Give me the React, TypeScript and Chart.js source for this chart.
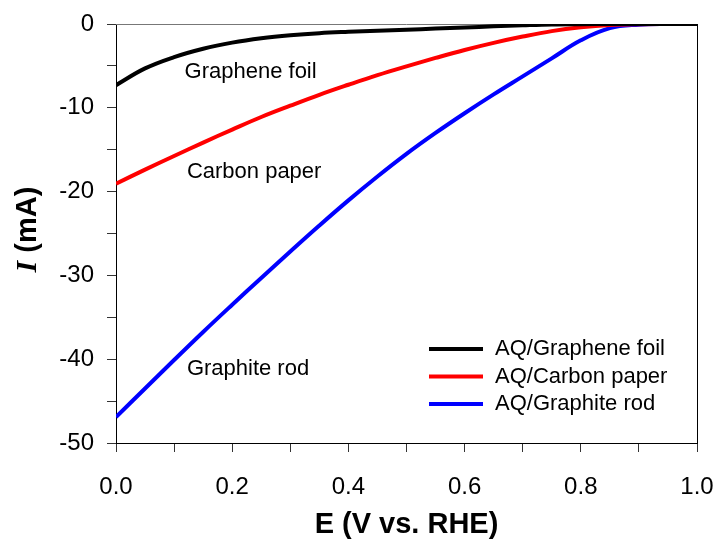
import { useEffect, useRef } from "react";
import { Chart, registerables } from "chart.js";

Chart.register(...registerables);

// ---- data ----
const voltage = [0, 0.05, 0.1, 0.15, 0.2, 0.25, 0.3, 0.35, 0.4, 0.45, 0.5, 0.55, 0.6, 0.65, 0.7, 0.75, 0.8, 0.85, 0.9, 0.95, 1.0];
const grapheneFoil = [-7.3, -5.3, -3.95, -2.95, -2.22, -1.7, -1.34, -1.09, -0.93, -0.8, -0.69, -0.55, -0.42, -0.28, -0.16, -0.06, -0.02, 0, 0, 0, 0];
const carbonPaper = [-19.06, -17.38, -15.75, -14.15, -12.6, -11.1, -9.75, -8.45, -7.25, -6.1, -5.05, -4.05, -3.1, -2.25, -1.5, -0.85, -0.4, -0.12, -0.02, 0, 0];
const graphiteRod = [-46.9, -43.5, -40.1, -36.75, -33.5, -30.3, -27.15, -24.05, -21.05, -18.2, -15.5, -13.0, -10.65, -8.4, -6.25, -4.1, -1.95, -0.5, -0.08, 0, 0];

const seriesLabels = ["AQ/Graphene foil", "AQ/Carbon paper", "AQ/Graphite rod"];
const seriesColors = ["#000000", "#ff0000", "#0000ff"];
const seriesValues = [grapheneFoil, carbonPaper, graphiteRod];

const curveNotes = [
  { text: "Graphene foil", x: 0.118, y: -5.67 },
  { text: "Carbon paper", x: 0.122, y: -17.6 },
  { text: "Graphite rod", x: 0.122, y: -41.2 },
];

const xTitle = "E (V vs. RHE)";
const yTitleItalic = "I";
const yTitleRest = " (mA)";

const SANS = "'Liberation Sans', Arial, sans-serif";
const SERIF = "'Liberation Serif', 'Times New Roman', serif";

export default function App() {
  const ref = useRef<HTMLCanvasElement | null>(null);

  useEffect(() => {
    const canvas = ref.current;
    if (!canvas) return;

    const decorPlugin = {
      id: "decor",
      beforeDatasetsDraw(chart: any) {
        const { ctx, chartArea } = chart;
        ctx.save();
        ctx.lineWidth = 1;
        ctx.strokeStyle = "#777777";
        ctx.beginPath();
        ctx.moveTo(chartArea.left, chartArea.top + 0.5);
        ctx.lineTo(chartArea.right, chartArea.top + 0.5);
        ctx.stroke();
        ctx.strokeStyle = "#000000";
        ctx.beginPath();
        ctx.moveTo(chartArea.right + 0.5, chartArea.top);
        ctx.lineTo(chartArea.right + 0.5, chartArea.bottom);
        ctx.stroke();
        ctx.restore();
      },
      afterDraw(chart: any) {
        const { ctx, chartArea, scales } = chart;
        ctx.save();
        // curve annotations
        ctx.fillStyle = "#000";
        ctx.font = `22px ${SANS}`;
        ctx.textAlign = "left";
        ctx.textBaseline = "middle";
        for (const n of curveNotes) {
          ctx.fillText(n.text, scales.x.getPixelForValue(n.x), scales.y.getPixelForValue(n.y));
        }
        // legend
        const ds = chart.data.datasets;
        ds.forEach((d: any, i: number) => {
          const yy = chartArea.top + 325 + i * 27.5;
          ctx.strokeStyle = d.borderColor;
          ctx.lineWidth = 4;
          ctx.beginPath();
          ctx.moveTo(chartArea.right - 268, yy);
          ctx.lineTo(chartArea.right - 214, yy);
          ctx.stroke();
          ctx.fillStyle = "#000";
          ctx.fillText(d.label, chartArea.right - 202, yy);
        });
        // x title
        ctx.font = `bold 29px ${SANS}`;
        ctx.textAlign = "center";
        ctx.textBaseline = "middle";
        ctx.fillText(xTitle, (chartArea.left + chartArea.right) / 2, 525);
        // y title (mixed fonts)
        ctx.translate(28, (chartArea.top + chartArea.bottom) / 2 - 4);
        ctx.rotate(-Math.PI / 2);
        const fI = `italic bold 30px ${SERIF}`;
        const fR = `bold 29px ${SANS}`;
        ctx.font = fI;
        const wI = ctx.measureText(yTitleItalic).width;
        ctx.font = fR;
        const wR = ctx.measureText(yTitleRest).width;
        const sx = -(wI + wR) / 2;
        ctx.textAlign = "left";
        ctx.font = fI;
        ctx.fillText(yTitleItalic, sx, 0);
        ctx.font = fR;
        ctx.fillText(yTitleRest, sx + wI, 0);
        ctx.restore();
      },
    };

    const chart = new Chart(canvas, {
      type: "line",
      data: {
        datasets: seriesValues.map((vals, i) => ({
          label: seriesLabels[i],
          data: voltage.map((v, j) => ({ x: v, y: vals[j] })),
          borderColor: seriesColors[i],
          backgroundColor: seriesColors[i],
          borderWidth: 4,
          pointRadius: 0,
          tension: 0.4,
          fill: false,
        })),
      },
      options: {
        animation: false,
        responsive: false,
        events: [],
        layout: { padding: { top: 24, right: 22, left: 0, bottom: 0 } },
        plugins: {
          legend: { display: false },
          tooltip: { enabled: false },
          title: { display: false },
        },
        scales: {
          x: {
            type: "linear",
            min: 0,
            max: 1,
            afterFit(scale: any) {
              scale.height = 100;
              scale.paddingLeft = 0;
              scale.paddingRight = 0;
            },
            border: { display: true, color: "#000", width: 1 },
            grid: { display: true, drawOnChartArea: false, drawTicks: true, tickLength: 9, color: "#333" },
            ticks: {
              stepSize: 0.1,
              autoSkip: false,
              maxRotation: 0,
              padding: 21,
              color: "#000",
              font: { family: SANS, size: 24 },
              callback: (v: any) => {
                const n = Math.round(Number(v) * 10);
                return n % 2 === 0 ? (n / 10).toFixed(1) : "";
              },
            },
          },
          y: {
            type: "linear",
            min: -50,
            max: 0,
            afterFit(scale: any) {
              scale.width = 116;
              scale.paddingTop = 0;
              scale.paddingBottom = 0;
            },
            border: { display: true, color: "#000", width: 1 },
            grid: { display: true, drawOnChartArea: false, drawTicks: true, tickLength: 9, color: "#333" },
            ticks: {
              stepSize: 5,
              autoSkip: false,
              padding: 13,
              color: "#000",
              font: { family: SANS, size: 24 },
              callback: (v: any) => {
                const n = Math.round(Number(v));
                return n % 10 === 0 ? String(n === 0 ? 0 : n) : "";
              },
            },
          },
        },
      },
      plugins: [decorPlugin],
    });

    return () => chart.destroy();
  }, []);

  return (
    <div style={{ position: "absolute", left: 0, top: 0, width: 719, height: 543 }}>
      <canvas ref={ref} width={719} height={543} style={{ display: "block" }} />
    </div>
  );
}
